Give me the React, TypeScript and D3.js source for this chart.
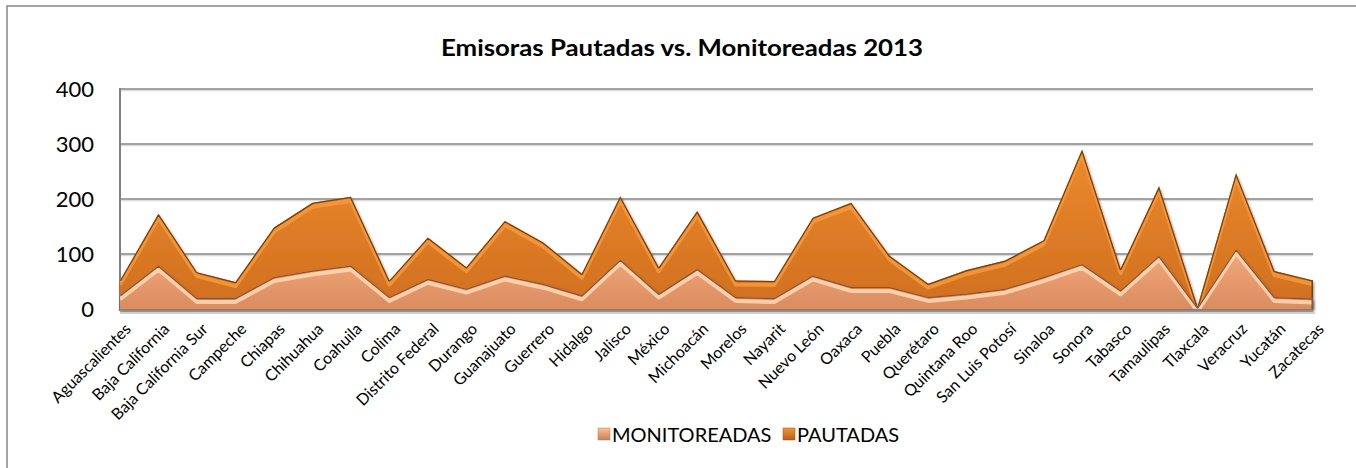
import * as d3 from 'd3'

// categories (estados) and the two series
const estados = [
  'Aguascalientes', 'Baja California', 'Baja California Sur', 'Campeche', 'Chiapas',
  'Chihuahua', 'Coahuila', 'Colima', 'Distrito Federal', 'Durango', 'Guanajuato',
  'Guerrero', 'Hidalgo', 'Jalisco', 'México', 'Michoacán', 'Morelos', 'Nayarit',
  'Nuevo León', 'Oaxaca', 'Puebla', 'Querétaro', 'Quintana Roo', 'San Luis Potosí',
  'Sinaloa', 'Sonora', 'Tabasco', 'Tamaulipas', 'Tlaxcala', 'Veracruz', 'Yucatán', 'Zacatecas'
]
const pautadas = [52, 173, 67, 49, 148, 193, 204, 52, 130, 76, 160, 121, 64, 205, 76, 178,
  52, 51, 166, 193, 97, 46, 71, 88, 125, 290, 73, 223, 4, 247, 69, 52]
const monitoreadas = [25, 79, 20, 20, 58, 70, 79, 22, 55, 37, 61, 46, 25, 90, 28, 73,
  22, 20, 61, 40, 40, 22, 28, 37, 58, 82, 34, 97, 3, 109, 22, 19]
const yTicks = [0, 100, 200, 300, 400]
const seriesNames = ['MONITOREADAS', 'PAUTADAS']

const W = 1356
const H = 468
const font = 'Lato, "Open Sans", sans-serif'

export default function App() {
  const x = d3.scalePoint<string>().domain(estados).range([120, 1313])
  const y = d3.scaleLinear().domain([0, 400]).range([309, 89])

  const area = d3.area<number>()
    .x((_, i) => x(estados[i]) as number)
    .y0(y(0))
    .y1(d => y(d))
  const topLine = d3.line<number>()
    .x((_, i) => x(estados[i]) as number)
    .y(d => y(d))

  const series = [
    {key: 'p', data: pautadas, grad: 'gp', edge: '#7a3f0c', hi: '#f59a3c'},
    {key: 'm', data: monitoreadas, grad: 'gm', edge: '#8a5232', hi: '#ffd8b4'}
  ]

  return (
    <svg width={W} height={H} style={{position: 'absolute', left: 0, top: 0, background: '#fff'}}>
      <defs>
        <linearGradient id="gp" x1="0" y1="0" x2="0" y2="1">
          <stop offset="0" stopColor="#ec8a2e" />
          <stop offset="1" stopColor="#d06f1f" />
        </linearGradient>
        <linearGradient id="gm" x1="0" y1="0" x2="0" y2="1">
          <stop offset="0" stopColor="#f4aa7c" />
          <stop offset="1" stopColor="#d98c60" />
        </linearGradient>
        <linearGradient id="lm" x1="0" y1="0" x2="0" y2="1">
          <stop offset="0" stopColor="#f8c29a" />
          <stop offset="1" stopColor="#c97f55" />
        </linearGradient>
        <linearGradient id="lp" x1="0" y1="0" x2="0" y2="1">
          <stop offset="0" stopColor="#f0953a" />
          <stop offset="1" stopColor="#b85e16" />
        </linearGradient>
        <filter id="sh" x="-5%" y="-5%" width="110%" height="120%">
          <feDropShadow dx="1" dy="2" stdDeviation="1.5" floodColor="#000" floodOpacity="0.45" />
        </filter>
        {series.map(s => (
          <clipPath id={'c' + s.key} key={s.key}>
            <path d={area(s.data) ?? ''} />
          </clipPath>
        ))}
      </defs>

      {/* chart border */}
      <rect x={7} y={6} width={W + 20} height={H + 20} fill="none" stroke="#868686" strokeWidth={1.5} />

      <text x={682} y={56} textAnchor="middle" fontFamily={font} fontWeight="bold" fontSize={22}
        textLength={482} lengthAdjust="spacingAndGlyphs">
        Emisoras Pautadas vs. Monitoreadas 2013
      </text>

      {/* gridlines */}
      {yTicks.filter(t => t > 0).map(t => (
        <g key={t}>
          <line x1={120} x2={1313} y1={y(t) + 1.5} y2={y(t) + 1.5} stroke="#dcdcdc" strokeWidth={1.5} />
          <line x1={120} x2={1313} y1={y(t)} y2={y(t)} stroke="#858585" strokeWidth={1.5} />
        </g>
      ))}
      {yTicks.map(t => (
        <text key={'l' + t} x={94} y={y(t)} dy="0.36em" textAnchor="end"
          fontFamily={font} fontSize={22}>{t}</text>
      ))}
      <line x1={120} x2={120} y1={88} y2={311} stroke="#808080" strokeWidth={2} />

      {/* areas, back series first */}
      {series.map(s => (
        <g key={s.key}>
          <path d={area(s.data) ?? ''} fill={`url(#${s.grad})`} filter="url(#sh)" />
          <g clipPath={`url(#c${s.key})`}>
            <path d={topLine(s.data) ?? ''} transform="translate(0,4)" fill="none"
              stroke={s.hi} strokeWidth={4} strokeLinejoin="round" opacity={0.85} />
            <path d={topLine(s.data) ?? ''} fill="none" stroke={s.edge} strokeWidth={2.5} strokeLinejoin="round" />
            <line x1={1313} x2={1313} y1={80} y2={312} stroke={s.edge} strokeWidth={3} />
          </g>
        </g>
      ))}

      {/* floor */}
      <line x1={120} x2={1315} y1={313} y2={313} stroke="#cfcfcf" strokeWidth={2} />
      <line x1={120} x2={1313} y1={310.5} y2={310.5} stroke="#8a8a8a" strokeWidth={2.5} />

      {/* category labels */}
      {estados.map(e => (
        <text key={e} transform={`translate(${(x(e) as number) + 12},330) rotate(-45)`}
          textAnchor="end" fontFamily={font} fontSize={16}>{e}</text>
      ))}

      {/* legend */}
      <g fontFamily={font} fontSize={20}>
        <rect x={598} y={428} width={12} height={12} fill="url(#lm)" stroke="#b87850" strokeWidth={0.5} />
        <text x={612} y={442}>{seriesNames[0]}</text>
        <rect x={783} y={428} width={12} height={12} fill="url(#lp)" stroke="#9a5010" strokeWidth={0.5} />
        <text x={797} y={442}>{seriesNames[1]}</text>
      </g>
    </svg>
  )
}
